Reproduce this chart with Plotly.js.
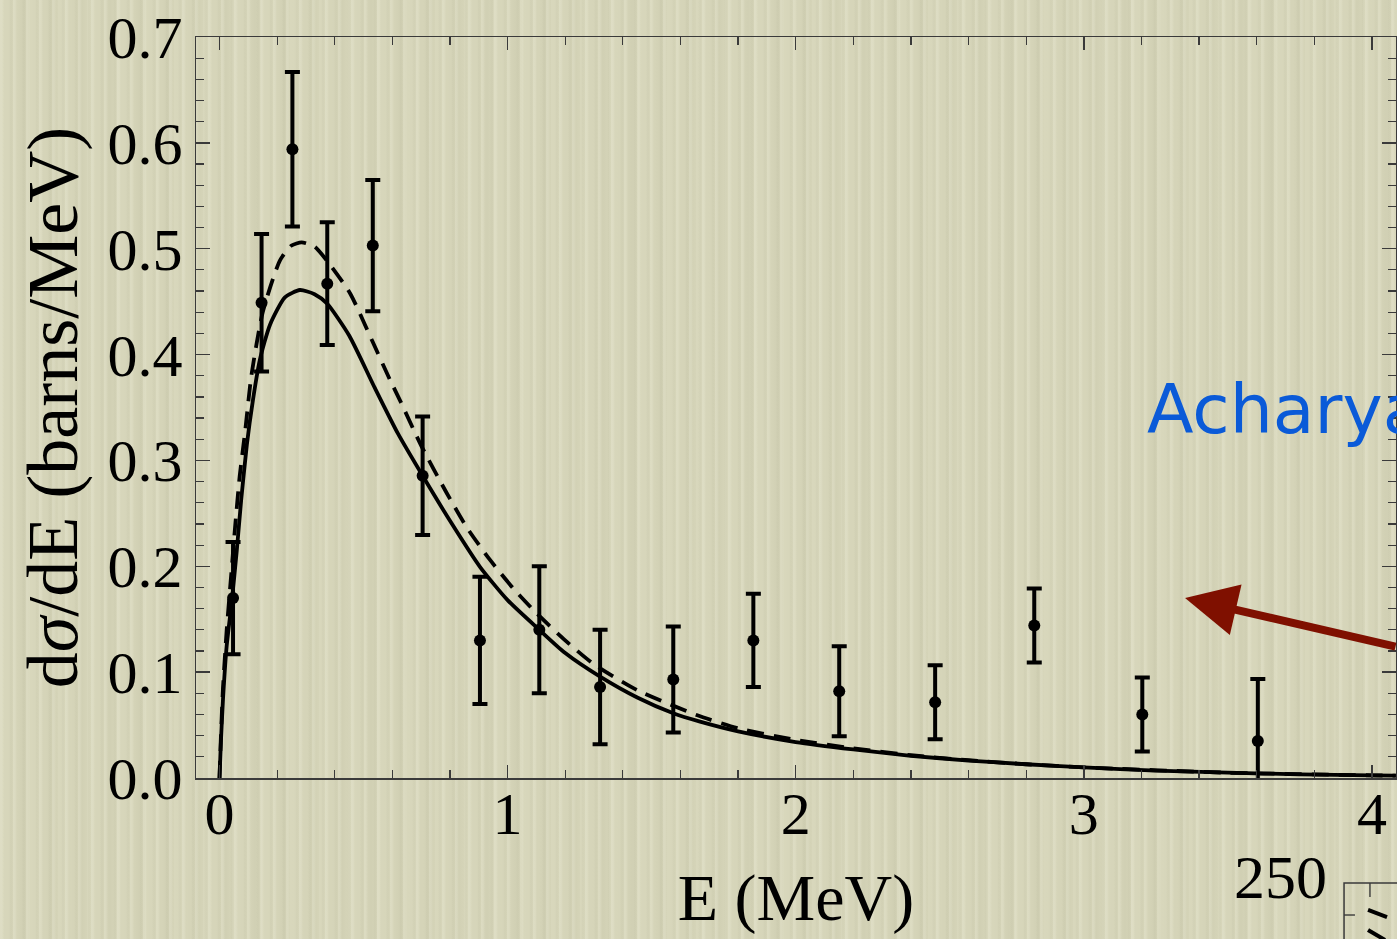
<!DOCTYPE html>
<html>
<head>
<meta charset="utf-8">
<script src="https://cdn.plot.ly/plotly-3.0.1.min.js"></script>
<style>
  html, body { margin: 0; padding: 0; }
  body {
    width: 1397px; height: 939px; overflow: hidden;
    background-color: #d5d4b8;
    background-image:
      repeating-linear-gradient(90deg, rgba(255,255,240,0.16) 0px, rgba(255,255,240,0.16) 2px, rgba(0,0,0,0) 4px, rgba(0,0,0,0) 9px, rgba(120,120,90,0.05) 11px, rgba(0,0,0,0) 13px),
      repeating-linear-gradient(90deg, rgba(255,255,235,0.08) 0px, rgba(0,0,0,0) 17px, rgba(140,140,110,0.06) 23px, rgba(0,0,0,0) 29px);
  }
  #chart { width: 1397px; height: 939px; }
</style>
</head>
<body>
<div id="chart"></div>
<script>
// Measured data points (E in MeV, dσ/dE in barns/MeV) with symmetric errors
const dataE   = [0.047, 0.146, 0.253, 0.374, 0.532, 0.705, 0.904, 1.110, 1.321, 1.575, 1.853, 2.151, 2.484, 2.828, 3.203, 3.604];
const dataY   = [0.170, 0.449, 0.594, 0.467, 0.503, 0.2855, 0.130, 0.140, 0.086, 0.093, 0.130, 0.082, 0.0715, 0.144, 0.060, 0.035];
const dataErr = [0.053, 0.065, 0.073, 0.058, 0.062, 0.056, 0.060, 0.060, 0.054, 0.050, 0.044, 0.0425, 0.035, 0.035, 0.035, 0.0586];

// Solid curve
const solidE = [0, 0.005, 0.012, 0.025, 0.043, 0.06, 0.075, 0.095, 0.116, 0.14, 0.175, 0.227, 0.279, 0.33, 0.374, 0.45, 0.54, 0.62, 0.705, 0.8, 0.904, 1.0, 1.11, 1.2, 1.321, 1.45, 1.575, 1.668, 1.8, 2.0, 2.2, 2.4, 2.6, 2.8, 3.0, 3.25, 3.5, 3.75, 4.0, 4.083];
const solidY = [0, 0.035, 0.074, 0.125, 0.168, 0.215, 0.262, 0.315, 0.357, 0.395, 0.428, 0.454, 0.461, 0.457, 0.448, 0.418, 0.368, 0.325, 0.2855, 0.243, 0.1995, 0.168, 0.140, 0.118, 0.0957, 0.076, 0.0611, 0.0532, 0.044, 0.034, 0.027, 0.021, 0.0165, 0.013, 0.010, 0.007, 0.005, 0.0035, 0.0025, 0.0022];

// Dashed curve
const dashE = [0, 0.005, 0.012, 0.025, 0.04, 0.055, 0.07, 0.09, 0.11, 0.15, 0.21, 0.25, 0.285, 0.33, 0.372, 0.453, 0.53, 0.592, 0.626, 0.7, 0.789, 0.86, 0.939, 1.02, 1.101, 1.2, 1.297, 1.45, 1.656, 1.8, 2.0, 2.2, 2.4, 2.6, 2.8, 3.0, 3.5, 4.0, 4.083];
const dashY = [0, 0.04, 0.085, 0.14, 0.19, 0.24, 0.285, 0.33, 0.379, 0.44, 0.489, 0.503, 0.506, 0.502, 0.489, 0.458, 0.413, 0.376, 0.357, 0.314, 0.269, 0.236, 0.206, 0.179, 0.1555, 0.130, 0.108, 0.083, 0.0595, 0.047, 0.036, 0.028, 0.0215, 0.0168, 0.013, 0.010, 0.005, 0.0025, 0.0022];

const xTickVals = [0, 1, 2, 3, 4];
const yTickVals = [0.0, 0.1, 0.2, 0.3, 0.4, 0.5, 0.6, 0.7];

const serif = '"Liberation Serif", "DejaVu Serif", serif';

const traces = [
  {
    x: dashE, y: dashY, type: 'scatter', mode: 'lines',
    line: {color: '#000', width: 3.8, dash: '17px,10px', shape: 'spline', smoothing: 0.6},
    hoverinfo: 'skip', showlegend: false
  },
  {
    x: solidE, y: solidY, type: 'scatter', mode: 'lines',
    line: {color: '#000', width: 3.8, shape: 'spline', smoothing: 0.6},
    hoverinfo: 'skip', showlegend: false
  },
  {
    x: dataE, y: dataY, type: 'scatter', mode: 'markers',
    marker: {color: '#000', size: 12, symbol: 'circle'},
    error_y: {type: 'data', array: dataErr, visible: true, color: '#000', thickness: 4, width: 7.5},
    showlegend: false
  }
];

const axisCommon = {
  showgrid: false, zeroline: false,
  showline: true, linecolor: '#3a3a3a', linewidth: 1.5, mirror: 'ticks',
  ticks: 'inside', tickcolor: '#3a3a3a', tickwidth: 1.4,
  tickfont: {family: serif, size: 60, color: '#000'}
};

const layout = {
  width: 1397, height: 939,
  margin: {l: 196, r: 1, t: 37, b: 161},
  paper_bgcolor: 'rgba(0,0,0,0)',
  plot_bgcolor: 'rgba(0,0,0,0)',
  showlegend: false,
  xaxis: Object.assign({}, axisCommon, {
    range: [-0.0816, 4.0836],
    tickvals: xTickVals, ticktext: xTickVals.map(String),
    ticklen: 13,
    minor: {dtick: 0.2, tick0: 0, ticks: 'inside', ticklen: 8, tickcolor: '#3a3a3a', tickwidth: 1.2},
    ticklabelstandoff: -18,
    title: {text: 'E (MeV)', font: {family: serif, size: 66, color: '#000'}, standoff: 28}
  }),
  yaxis: Object.assign({}, axisCommon, {
    range: [0, 0.7],
    tickvals: yTickVals, ticktext: yTickVals.map(v => v.toFixed(1)),
    ticklen: 14,
    minor: {dtick: 0.02, tick0: 0, ticks: 'inside', ticklen: 8, tickcolor: '#3a3a3a', tickwidth: 1.2},
    title: {text: 'd<i>σ</i>/dE (barns/MeV)', font: {family: serif, size: 72, color: '#000'}, standoff: 6}
  }),
  annotations: [
    {
      xref: 'paper', yref: 'paper', x: 0.791, y: 0.497, xanchor: 'left', yanchor: 'middle',
      text: 'Acharya', showarrow: false,
      font: {family: '"DejaVu Sans", sans-serif', size: 68, color: '#0a5ad8'}
    },
    {
      xref: 'paper', yref: 'paper', x: 0.8242, y: 0.2429,
      text: '', showarrow: true, arrowhead: 2, arrowsize: 1.3, arrowwidth: 8,
      arrowcolor: '#7f1000', ax: 232, ay: 49, standoff: 0
    },
    {
      xref: 'paper', yref: 'paper', x: 0.904, y: -0.134, xanchor: 'center', yanchor: 'middle',
      text: '250', showarrow: false,
      font: {family: serif, size: 62, color: '#000'}
    }
  ],
  shapes: [
    {type: 'rect', xref: 'paper', yref: 'paper', x0: 0.9567, x1: 1.2, y0: -0.1417, y1: -0.4,
     line: {color: '#3a3a3a', width: 1.5}},
    {type: 'line', xref: 'paper', yref: 'paper', x0: 0.9783, x1: 0.9783, y0: -0.1417, y1: -0.1606,
     line: {color: '#3a3a3a', width: 1.4}},
    {type: 'line', xref: 'paper', yref: 'paper', x0: 0.9567, x1: 0.9658, y0: -0.1849, y1: -0.1849,
     line: {color: '#3a3a3a', width: 1.4}},
    {type: 'line', xref: 'paper', yref: 'paper', x0: 0.9767, x1: 0.9925, y0: -0.1781, y1: -0.1876,
     line: {color: '#000', width: 4}},
    {type: 'line', xref: 'paper', yref: 'paper', x0: 0.9767, x1: 0.9908, y0: -0.2051, y1: -0.2186,
     line: {color: '#000', width: 4}}
  ]
};

Plotly.newPlot('chart', traces, layout, {staticPlot: true, displayModeBar: false});
</script>
</body>
</html>
